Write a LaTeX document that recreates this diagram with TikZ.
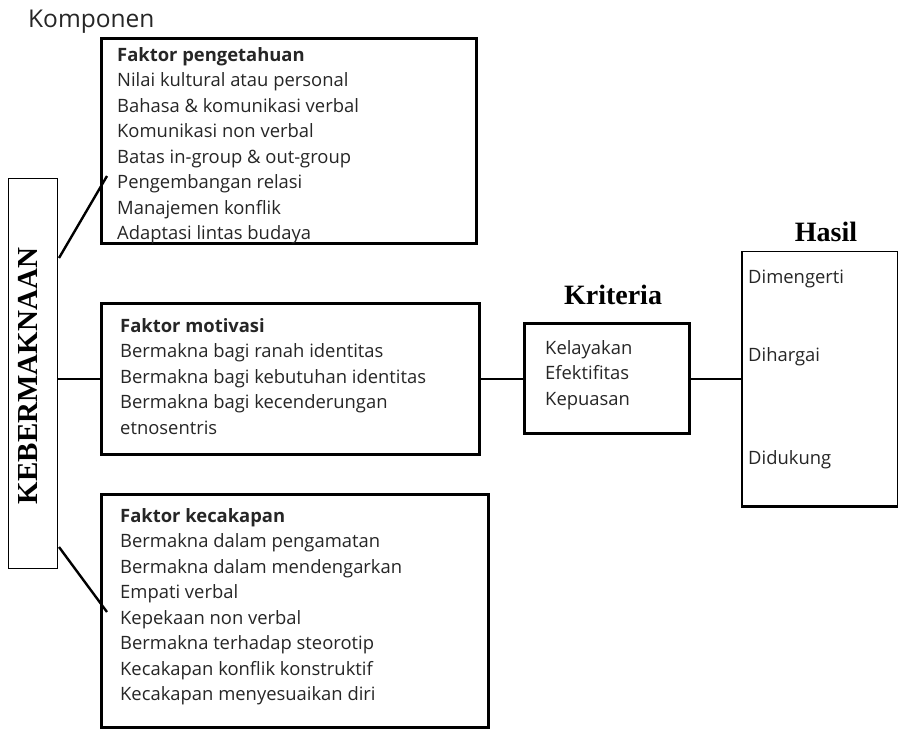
\documentclass[tikz,border=0pt]{standalone}
\usepackage{fontspec}
\setmainfont{Open Sans}
\newfontfamily\serifb{Liberation Serif}
\tikzset{
  thickbox/.style={draw, line width=2.6pt, inner sep=0pt, anchor=north west},
  thinbox/.style={draw, line width=1.3pt, inner sep=0pt, anchor=north west},
  body/.style={anchor=north west, inner sep=0pt, align=left, text=black!85, font=\fontsize{18.4}{25.5}\selectfont},
  conn/.style={line width=2.4pt},
  title/.style={font=\serifb\bfseries\fontsize{28}{30}\selectfont, inner sep=0pt}
}
\begin{document}
\begin{tikzpicture}[x=1pt,y=-1pt]
\useasboundingbox (0,0) rectangle (899,729);
\fill[white] (0,0) rectangle (899,729);

\node[anchor=base west, inner sep=0pt, text=black!85, font=\fontsize{24.5}{26}\selectfont] (komp) at (28,27) {Komponen};

% left vertical box
\node[thinbox, minimum width=49pt, minimum height=390pt] (keb) at (8,178) {};
\node[font=\serifb\bfseries\fontsize{29}{30}\selectfont, rotate=90, inner sep=0pt] (kebt) at (28,376) {KEBERMAKNAAN};

% box 1
\node[thickbox, minimum width=375pt, minimum height=205pt] (b1) at (100,37) {};
\node[body] (t1) at (117,47) {\textbf{Faktor pengetahuan}\\Nilai kultural atau personal\\Bahasa \& komunikasi verbal\\Komunikasi non verbal\\Batas in-group \& out-group\\Pengembangan relasi\\Manajemen konflik\\Adaptasi lintas budaya};

% box 2
\node[thickbox, minimum width=378pt, minimum height=151pt] (b2) at (100,302) {};
\node[body] (t2) at (120,318) {\textbf{Faktor motivasi}\\Bermakna bagi ranah identitas\\Bermakna bagi kebutuhan identitas\\Bermakna bagi kecenderungan\\etnosentris};

% box 3
\node[thickbox, minimum width=387pt, minimum height=233pt] (b3) at (100,493) {};
\node[body] (t3) at (120,508) {\textbf{Faktor kecakapan}\\Bermakna dalam pengamatan\\Bermakna dalam mendengarkan\\Empati verbal\\Kepekaan non verbal\\Bermakna terhadap steorotip\\Kecakapan konflik konstruktif\\Kecakapan menyesuaikan diri};

% Kriteria
\node[title] (krt) at (613,295) {Kriteria};
\node[thickbox, minimum width=165pt, minimum height=110pt] (kr) at (523,322) {};
\node[body] (tk) at (545,340) {Kelayakan\\Efektifitas\\Kepuasan};

% Hasil
\node[title] (hst) at (826,232) {Hasil};
\node[thinbox, minimum width=155pt, minimum height=254pt] (h) at (742,251) {};
\draw[line width=2.6pt] (h.north west) -- (h.south west) -- (h.south east);
\node[body, anchor=base west] (h1) at (748,283) {Dimengerti};
\node[body, anchor=base west] (h2) at (748,361) {Dihargai};
\node[body, anchor=base west] (h3) at (748,464) {Didukung};

% connectors
\coordinate (c1) at (107,176);
\coordinate (c3) at (107,612);
\draw[conn] (59,258) -- (c1);
\draw[conn] (keb.east |- b2.west) -- (b2.west);
\draw[conn] (59,547) -- (c3);
\draw[conn] (b2.east) -- (kr.west |- b2.east);
\draw[conn] (kr.east |- b2.east) -- (h.west |- b2.east);
\end{tikzpicture}
\end{document}
